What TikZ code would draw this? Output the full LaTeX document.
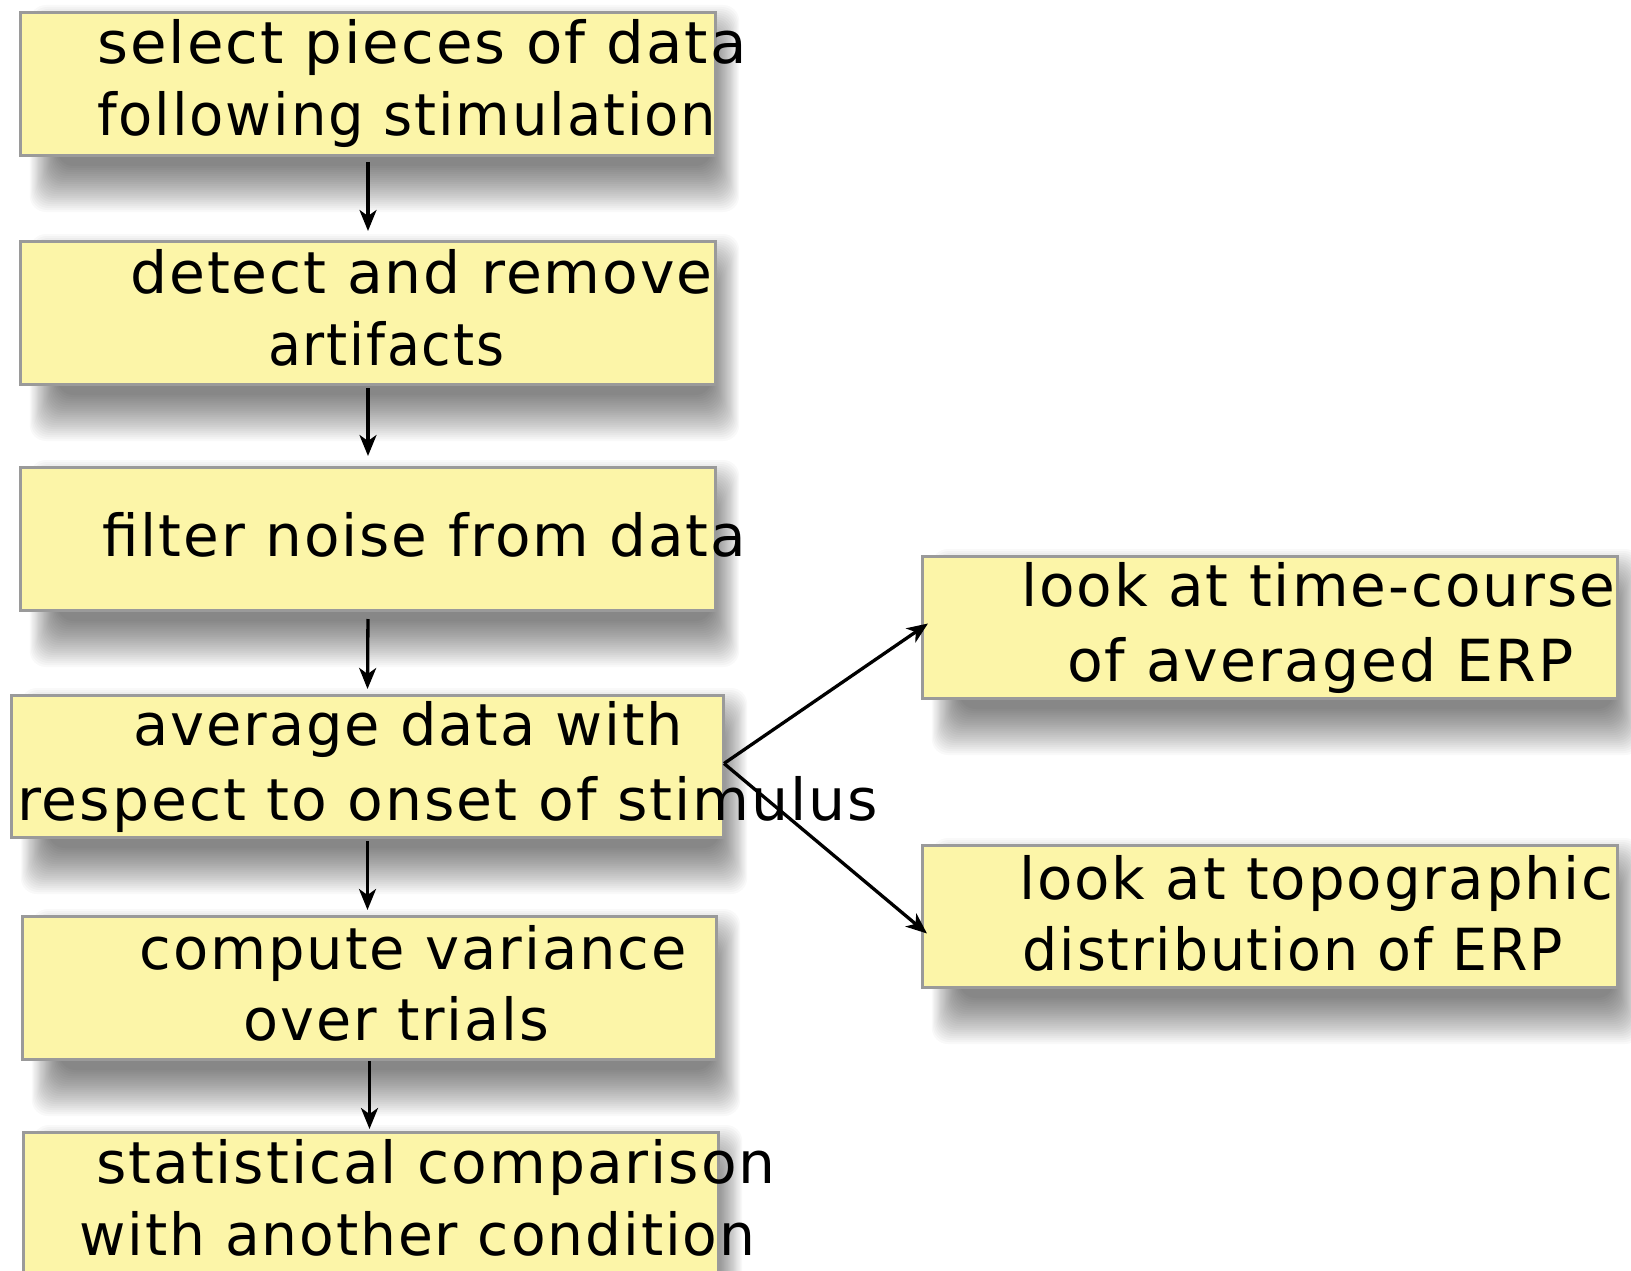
\documentclass[tikz,border=0pt]{standalone}
\usepackage{fontspec}
\setmainfont{DejaVu Sans}[FakeStretch=0.9, LetterSpace=3]
\usetikzlibrary{arrows.meta,calc}

\definecolor{boxfill}{HTML}{FCF5A8}
\definecolor{boxline}{HTML}{9A9A9A}

% set a line of text squeezed or stretched to a given width (in pt)
\newlength\linewd
\newcommand\fitto[2]{\settowidth\linewd{#2}%
  \pgfmathsetmacro\fitscale{#1/\linewd}\scalebox{\fitscale}[1]{#2}}

\tikzset{
  stepbox/.style={draw=boxline, line width=3pt, fill=boxfill, inner sep=0pt,
    anchor=north west},
  shadowlayer/.style={fill=black, fill opacity=0.024, rounded corners=16pt},
  boxtext/.style={anchor=base west, inner sep=0pt,
    font=\fontsize{58}{70}\selectfont},
  flow/.style={-{Stealth[length=21pt,width=17pt,inset=6pt]}, line width=3.3pt, black},
}

% a box given by its corners, with a soft shadow below and to the right
\newcommand\stepat[5]{% name, x0, y0, x1, y1
  \foreach \e in {32,30,...,-14}{%
    \path[shadowlayer] (#2+30-0.6*\e, #3+26-\e) rectangle (#4+6+0.6*\e, #5+26+\e);}
  \node[stepbox, minimum width=#4-#2, minimum height=#5-#3] (#1) at (#2,#3) {};}

\begin{document}
\begin{tikzpicture}[x=1pt, y=-1pt]
\useasboundingbox (0,0) rectangle (1631,1271);
\clip (0,0) rectangle (1631,1271);
\fill[white] (0,0) rectangle (1631,1271);

% boxes
\stepat{b1}{19}{11}{714}{154}
\stepat{b2}{19}{240}{714}{383}
\stepat{b3}{19}{466}{714}{609}
\stepat{b4}{10}{694}{722}{836}
\stepat{b5}{21}{915}{715}{1058}
\stepat{b6}{22}{1131}{717}{1274}
\stepat{b7}{921}{555}{1616}{697}
\stepat{b8}{921}{844}{1616}{986}

% labels, one node per printed line
\node[boxtext] (t1a) at (97,63.3)    {\fitto{649.5}{select pieces of data}};
\node[boxtext] (t1b) at (97,136)     {\fitto{619}{following stimulation}};
\node[boxtext] (t2a) at (130,293)    {\fitto{582.6}{detect and remove}};
\node[boxtext] (t2b) at (268,365)    {\fitto{236}{artifacts}};
\node[boxtext] (t3)  at (102,556.5)  {\fitto{644}{filter noise from data}};
\node[boxtext] (t4a) at (133,745)    {\fitto{550}{average data with}};
\node[boxtext] (t4b) at (17,820)     {\fitto{861}{respect to onset of stimulus}};
\node[boxtext] (t5a) at (139.4,969.5){\fitto{547}{compute variance}};
\node[boxtext] (t5b) at (243.4,1040) {\fitto{305.6}{over trials}};
\node[boxtext] (t6a) at (96,1183)    {\fitto{679.5}{statistical comparison}};
\node[boxtext] (t6b) at (79,1255)    {\fitto{676}{with another condition}};
\node[boxtext] (t7a) at (1021,606.7) {\fitto{594}{look at time-course}};
\node[boxtext] (t7b) at (1067,681.7) {\fitto{506.5}{of averaged ERP}};
\node[boxtext] (t8a) at (1019,899.3) {\fitto{594}{look at topographic}};
\node[boxtext] (t8b) at (1022.7,970) {\fitto{540}{distribution of ERP}};

% connectors
\draw[flow, shorten <=5pt, shorten >=9pt] (b1.south) -- (b2.north);
\draw[flow, shorten <=2pt, shorten >=10pt] (b2.south) -- (b3.north);
\draw[flow, shorten <=7pt, shorten >=5pt] (b3.south) -- (b4.north);
\draw[flow, shorten <=2pt, shorten >=5pt] (b4.south) -- (b4.south |- b5.north);
\draw[flow, shorten >=2pt] (b5.south) -- (b5.south |- b6.north);
\coordinate (fork) at ($(b4.east)+(-1,-3)$);
\coordinate (toptip) at ($(b7.west)+(7,-4)$);
\coordinate (bottip) at ($(b8.west)+(6,17)$);
\draw[flow] (fork) -- (toptip);
\draw[flow] (fork) -- (bottip);
\end{tikzpicture}
\end{document}
